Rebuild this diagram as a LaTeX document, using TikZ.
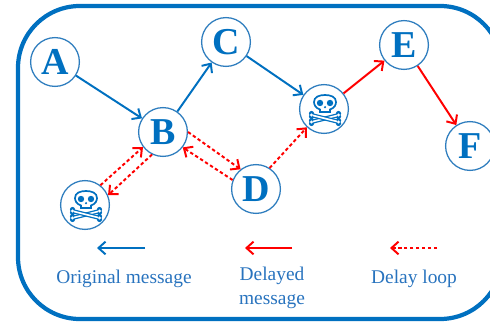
\documentclass[tikz,border=0pt]{standalone}
\usepackage{fontspec}
\setmainfont{Liberation Serif}
\usepackage{xcolor}
\usetikzlibrary{arrows.meta}
\definecolor{framecolor}{RGB}{0, 112, 192}
\definecolor{ringcolor}{RGB}{46, 125, 190}
\definecolor{labelcolor}{RGB}{40, 115, 190}

\tikzset{
    skullicon/.pic={
        % Crossbones
        \foreach \sgn in {1, -1} {
            \fill[framecolor] (-12.5, {-9.5-\sgn*5}) circle (2.6) (-12.5, {-9.5-\sgn*2}) circle (2.6);
            \fill[framecolor] (14.5, {-9.5+\sgn*5}) circle (2.6) (14.5, {-9.5+\sgn*2}) circle (2.6);
        }
        \foreach \sgn in {1, -1} {
            \draw[framecolor, line width=0.9pt, double=white, double distance=1.2pt] (-11, {-9.5-\sgn*3}) -- (13, {-9.5+\sgn*3});
            \fill[white] (-12.5, {-9.5-\sgn*3.5}) circle (1.6) (14.5, {-9.5+\sgn*3.5}) circle (1.6);
        }
        % Head
        \draw[framecolor, line width=1.2pt, fill=white] (-4, -3) -- (-4, -0.5) .. controls (-9, 1) and (-10, 5) .. (-10, 7) .. controls (-10, 12) and (-5, 14) .. (1, 14) .. controls (7, 14) and (12, 12) .. (12, 7) .. controls (12, 5) and (11, 1) .. (6, -0.5) -- (6, -3) -- cycle;
        \fill[framecolor] (-4, 6) circle (3.2) (6, 6) circle (3.2) (1, 1.8) circle (1.2);
    }
}

\begin{document}
\begin{tikzpicture}[
    x=0.025cm, y=0.025cm,
    station/.style={draw=ringcolor, fill=white, circle, line width=0.9pt, minimum size=1.22cm, inner sep=0pt, text=framecolor, font=\fontsize{27}{27}\selectfont\bfseries},
    legendtext/.style={text=labelcolor, font=\fontsize{13.8}{17}\selectfont, align=center},
    original/.style={-{Straight Barb[length=5pt, width=9pt]}, line width=1.4pt, framecolor},
    delayed/.style={-{Straight Barb[length=5pt, width=9pt]}, line width=1.4pt, red},
    loopback/.style={-{Straight Barb[length=5pt, width=9pt]}, line width=1.4pt, red, dash pattern=on 2.4pt off 1.8pt}
]
    \clip (0, 0) rectangle (490, 321);
    % Outer frame
    \draw[framecolor, line width=3pt, rounded corners=44] (18, 2) rectangle (502, 315);

    % Stations
    \node[station] (A) at (55, 259) {A};
    \node[station] (B) at (163, 189) {B};
    \node[station] (C) at (226, 279) {C};
    \node[station] (D) at (256, 132) {D};
    \node[station] (E) at (404, 276) {E};
    \node[station] (F) at (470, 175) {F};
    \node[station] (skullleft) at (85, 116) {};
    \node[station] (skullright) at (324, 212) {};
    \pic at (skullleft) {skullicon};
    \pic at (skullright) {skullicon};

    % Original route
    \draw[original] (A) -- (B);
    \draw[original] (B) -- (C);
    \draw[original] (C) -- (skullright);

    % Delayed route
    \draw[delayed] (skullright) -- (E);
    \draw[delayed] (E) -- (F);

    % Delay loops
    \draw[loopback] (skullleft.52) -- (B.217);
    \draw[loopback] (B.244) -- (skullleft.23);
    \draw[loopback] (B.0) -- (D.128);
    \draw[loopback] (D.159) -- (B.322);
    \draw[loopback] (D.57) -- (skullright.227);

    % Legend
    \coordinate (origstart) at (145, 73);
    \coordinate (origend) at (97, 73);
    \coordinate (delaystart) at (292, 73);
    \coordinate (delayend) at (245, 73);
    \coordinate (loopstart) at (437, 73);
    \coordinate (loopend) at (390, 73);
    \draw[original] (origstart) -- (origend);
    \draw[delayed] (delaystart) -- (delayend);
    \draw[loopback] (loopstart) -- (loopend);
    \node[legendtext] (origlabel) at (124, 42) {Original message};
    \node[legendtext] (delaylabel) at (272, 33) {Delayed\\message};
    \node[legendtext] (looplabel) at (414, 42) {Delay loop};
\end{tikzpicture}
\end{document}
